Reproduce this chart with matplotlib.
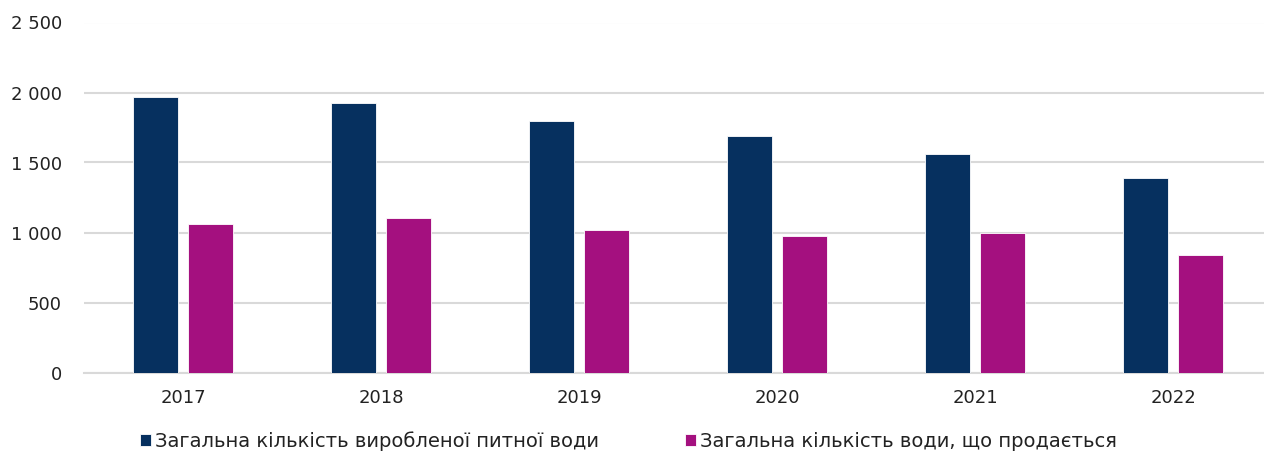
import matplotlib
matplotlib.use("Agg")
import matplotlib.pyplot as plt
from matplotlib.ticker import FuncFormatter, MultipleLocator
import numpy as np

years = ["2017", "2018", "2019", "2020", "2021", "2022"]
produced = [1966, 1923, 1794, 1689, 1563, 1387]
sold = [1059, 1106, 1018, 977, 999, 837]
series_names = ["Загальна кількість виробленої питної води",
                "Загальна кількість води, що продається"]
colors = ["#06305F", "#A4107F"]

plt.rcParams['font.family'] = ['DejaVu Sans']

fig = plt.figure(figsize=(12.64, 4.54), dpi=100)
ax = fig.add_axes([84/1264, 1 - 372.5/454, 1 - 84/1264, 350/454])

x = np.arange(len(years))
w = 0.227
off = 0.141
ax.bar(x - off, produced, width=w, color=colors[0], edgecolor='white', linewidth=0.6,
       label=series_names[0], zorder=3)
ax.bar(x + off, sold, width=w, color=colors[1], edgecolor='white', linewidth=0.6,
       label=series_names[1], zorder=3)

ax.set_xlim(-0.5, -0.5 + 1180/198)
ax.set_ylim(0, 2500)
ax.yaxis.set_major_locator(MultipleLocator(500))
ax.yaxis.set_major_formatter(FuncFormatter(lambda v, p: f"{int(v):,}".replace(",", " ")))
ax.grid(axis='y', color='#d9d9d9', linewidth=1.5, zorder=0)
ax.set_axisbelow(True)
for s in ['top', 'right', 'left']:
    ax.spines[s].set_visible(False)
ax.spines['bottom'].set_color('#d9d9d9')
ax.spines['bottom'].set_linewidth(1.5)
ax.set_xticks(x)
ax.set_xticklabels(years)
ax.tick_params(axis='both', length=0, labelsize=13, colors='#222222')
ax.tick_params(axis='y', pad=16)
ax.tick_params(axis='x', pad=12)

leg = fig.legend(loc='center left', bbox_to_anchor=(122/1264, 1 - 441/454), ncol=2,
                 frameon=False, fontsize=14, handlelength=0.6, handleheight=0.6,
                 handletextpad=0.2, columnspacing=4.4, labelcolor='#222222')

fig.savefig("out.png", dpi=100)
